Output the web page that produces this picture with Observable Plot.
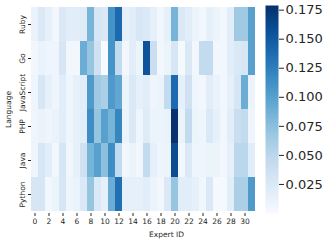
<!DOCTYPE html>
<html>
<head>
<meta charset="utf-8">
<script src="https://cdn.jsdelivr.net/npm/d3@7"></script>
<script src="https://cdn.jsdelivr.net/npm/@observablehq/plot@0.6"></script>
<style>
  body { margin: 0; background: #fff; }
  #wrap { position: relative; width: 327px; height: 243px; }
  #wrap > svg { position: absolute; top: 0; }
</style>
</head>
<body>
<div id="wrap"></div>
<script>
const languages = ["Ruby", "Go", "JavaScript", "PHP", "Java", "Python"];
const experts = [0,1,2,3,4,5,6,7,8,9,10,11,12,13,14,15,16,17,18,19,20,21,22,23,24,25,26,27,28,29,30,31];
const xTickValues = [0,2,4,6,8,10,12,14,16,18,20,22,24,26,28,30];
const colorTicks = [0.025, 0.05, 0.075, 0.1, 0.125, 0.15, 0.175];
const colorMax = 0.179;

const ruby   = [0.012,0.025,0.015,0.005,0.025,0.02,0.02,0.022,0.085,0.03,0.025,0.11,0.14,0.015,0.02,0.03,
                0.025,0.015,0.005,0.015,0.085,0.025,0.02,0.01,0.005,0.015,0.01,0.005,0.02,0.065,0.065,0.1];
const go     = [0.005,0.012,0.008,0.008,0.03,0.005,0.005,0.09,0.07,0.035,0.0,0.11,0.045,0.005,0.02,0.01,
                0.155,0.04,0.005,0.01,0.03,0.003,0.025,0.005,0.045,0.045,0.005,0.005,0.02,0.025,0.03,0.1];
const javascript = [0.008,0.03,0.015,0.008,0.02,0.008,0.015,0.02,0.105,0.065,0.06,0.105,0.095,0.01,0.025,0.015,
                0.02,0.008,0.01,0.045,0.14,0.015,0.035,0.008,0.005,0.02,0.012,0.005,0.015,0.03,0.09,0.01];
const php    = [0.008,0.012,0.008,0.012,0.02,0.008,0.015,0.02,0.115,0.07,0.1,0.085,0.12,0.01,0.025,0.008,
                0.022,0.01,0.01,0.012,0.178,0.01,0.045,0.01,0.008,0.025,0.015,0.005,0.02,0.04,0.045,0.008];
const java   = [0.008,0.03,0.02,0.005,0.03,0.005,0.015,0.035,0.085,0.1,0.075,0.115,0.045,0.005,0.01,0.005,
                0.045,0.015,0.008,0.01,0.16,0.005,0.025,0.008,0.008,0.01,0.01,0.005,0.015,0.05,0.05,0.02];
const python = [0.03,0.03,0.005,0.01,0.03,0.008,0.012,0.025,0.07,0.025,0.015,0.09,0.135,0.015,0.015,0.015,
                0.02,0.01,0.005,0.025,0.07,0.02,0.02,0.015,0.005,0.025,0.003,0.003,0.02,0.06,0.06,0.105];

const rows = [ruby, go, javascript, php, java, python];
const table = [];
languages.forEach((lang, i) => {
  experts.forEach((e, j) => table.push({lang, expert: e, value: rows[i][j]}));
});

const font = "DejaVu Sans, sans-serif";
const textColor = "#262626";

const main = Plot.plot({
  width: 327, height: 243,
  marginLeft: 31, marginRight: 72, marginTop: 5, marginBottom: 30,
  style: {fontFamily: font, fontSize: "7.5px", color: textColor, background: "transparent"},
  x: {type: "band", domain: experts, padding: 0, axis: null},
  y: {type: "band", domain: languages, padding: 0, axis: null},
  color: {type: "linear", scheme: "blues", domain: [0, colorMax]},
  marks: [
    Plot.cell(table, {x: "expert", y: "lang", fill: "value", inset: 0, shapeRendering: "crispEdges"}),
    Plot.axisX(xTickValues, {tickSize: 3, tickPadding: 2, label: null, fontSize: 7.5, stroke: textColor}),
    Plot.axisY({tickSize: 3, tickFormat: () => "", label: null, stroke: textColor}),
    Plot.text(languages, {y: d => d, frameAnchor: "left", dx: -9, rotate: -90, textAnchor: "middle", fontSize: 7.5, fill: textColor}),
    Plot.text(["Language"], {frameAnchor: "left", dx: -23, rotate: -90, textAnchor: "middle", fontSize: 7.5, fill: textColor}),
    Plot.text(["Expert ID"], {frameAnchor: "bottom", dy: 23, dx: 23, textAnchor: "middle", fontSize: 7.5, fill: textColor})
  ]
});
main.style.left = "0px";

const cbar = Plot.plot({
  width: 67, height: 243,
  marginLeft: 5, marginRight: 49, marginTop: 5, marginBottom: 30,
  style: {fontFamily: font, fontSize: "13px", color: textColor, background: "transparent"},
  x: {domain: [0, 1], axis: null},
  y: {domain: [0, colorMax], axis: null},
  color: {type: "linear", scheme: "blues", domain: [0, colorMax]},
  marks: [
    Plot.raster({fill: (x, y) => y, x1: 0, x2: 1, y1: 0, y2: colorMax, width: 1, height: 208}),
    Plot.axisY(colorTicks, {anchor: "right", tickSize: 5, tickPadding: 2, tickFormat: d3.format(".3f"), fontSize: 13, label: null, stroke: textColor})
  ]
});
cbar.style.left = "260px";

const wrap = document.getElementById("wrap");
wrap.appendChild(main);
wrap.appendChild(cbar);
</script>
</body>
</html>
